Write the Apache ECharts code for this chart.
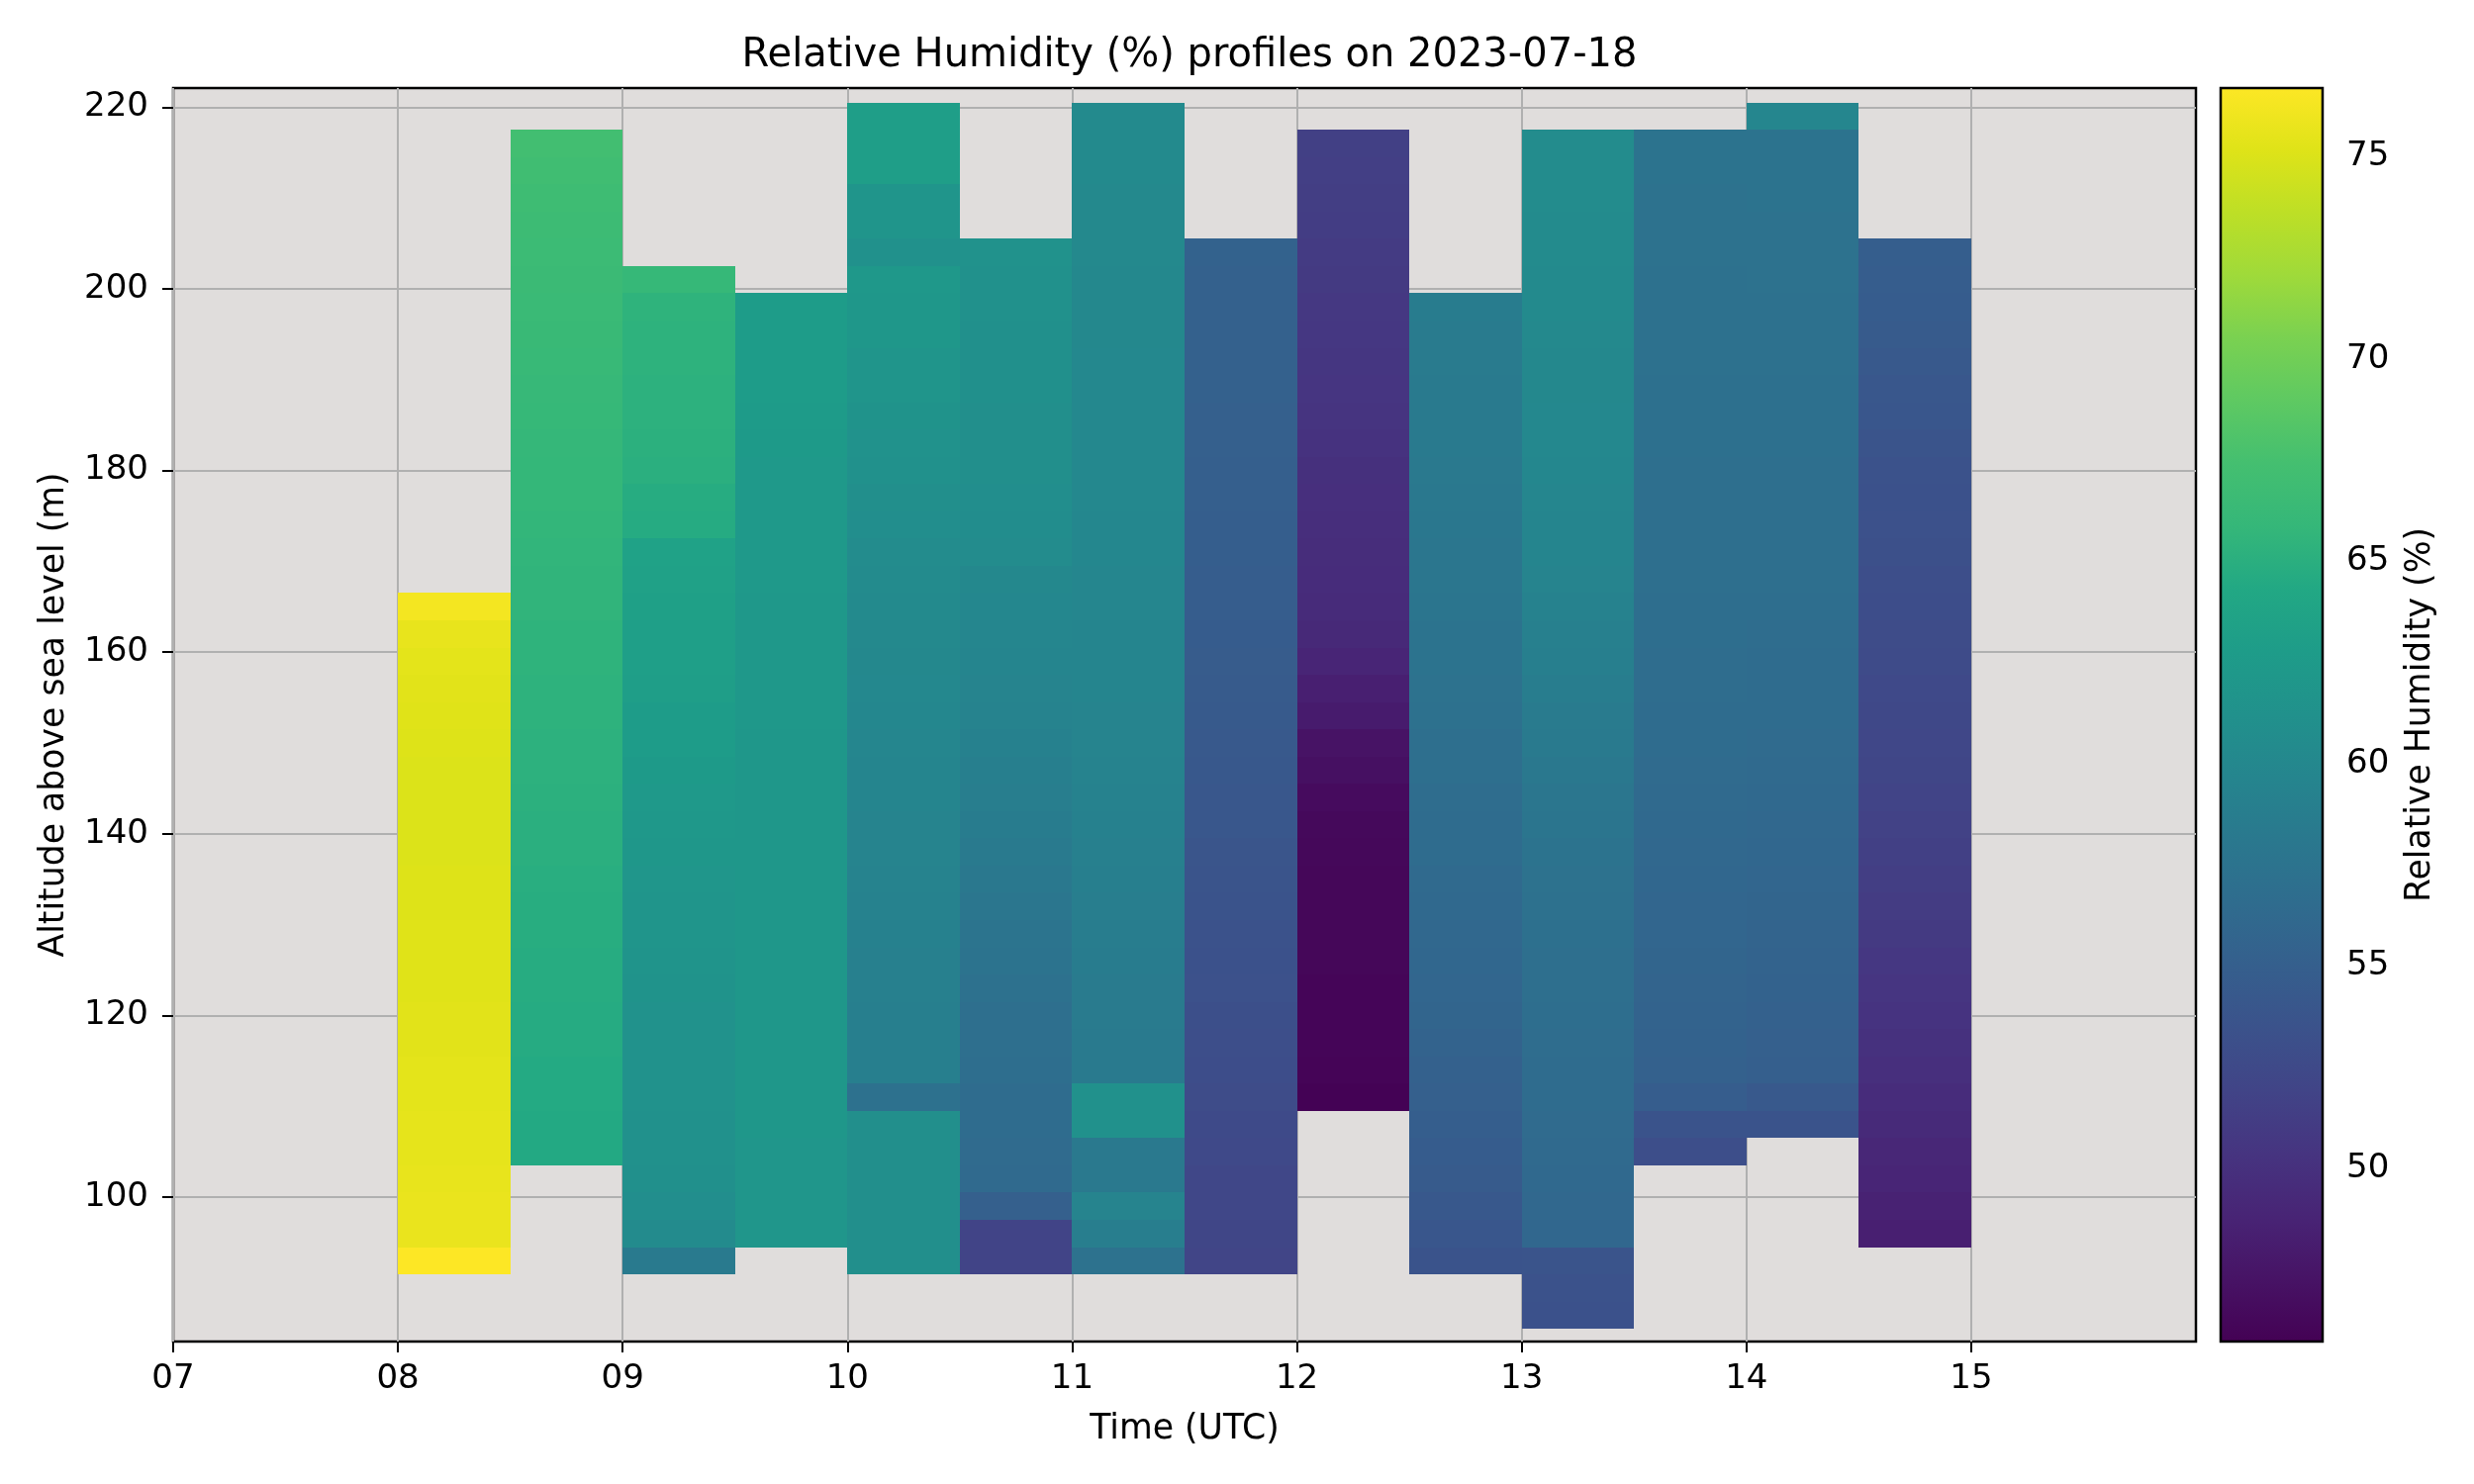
<!DOCTYPE html>
<html>
<head>
<meta charset="utf-8">
<script src="https://cdn.jsdelivr.net/npm/echarts@6/dist/echarts.min.js"></script>
<style>html,body{margin:0;padding:0;background:#fff}#chart{width:2500px;height:1500px}</style>
</head>
<body>
<div id="chart"></div>
<script>
// ---- data ----
const profileStartTimes = ['08:00','08:30','09:00','09:30','10:00','10:30','11:00','11:30','12:00','12:30','13:00','13:30','14:00','14:30'];
const profileDurationMin = 30;
const altitudeBinSize = 3;
// lower edge of the lowest altitude bin of each profile (m)
const profileBottomAlt = [91.5, 103.5, 91.5, 94.5, 91.5, 91.5, 91.5, 91.5, 109.5, 91.5, 85.5, 103.5, 106.5, 94.5];
// relative humidity (%) per 3 m bin, from the lowest bin upwards
const rh_0800 = [76.7,75.7,75.7,75.6,75.5,75.5,75.4,75.4,75.3,75.3,75.2,75.2,75.2,75.1,75.1,75.0,75.0,75.0,75.0,75.1,75.2,75.3,75.4,75.6,76.2];
const rh_0830 = [64.4,64.4,64.5,64.5,64.6,64.6,64.7,64.7,64.8,64.8,64.9,65.0,65.0,65.1,65.2,65.2,65.3,65.3,65.4,65.4,65.5,65.5,65.6,65.7,65.8,65.8,65.9,66.0,66.1,66.2,66.3,66.4,66.5,66.6,66.7,66.8,67.0,67.2];
const rh_0900 = [58.4,60.4,60.8,61.1,61.2,61.2,61.3,61.3,61.4,61.4,61.5,61.6,61.7,61.8,61.9,62.0,62.2,62.4,62.5,62.7,62.8,63.0,63.1,63.2,63.3,63.4,63.5,64.6,64.7,65.0,65.1,65.2,65.2,65.3,65.3,65.4,66.0];
const rh_0930 = [61.9,61.9,61.9,61.9,62.0,62.0,62.0,62.0,62.0,62.0,62.0,62.0,62.0,62.0,62.1,62.1,62.1,62.1,62.1,62.2,62.2,62.2,62.2,62.2,62.3,62.3,62.3,62.4,62.4,62.5,62.6,62.7,62.7,62.8,62.8];
const rh_1000 = [61.0,61.0,61.0,61.0,61.0,61.0,57.2,58.9,59.0,59.0,59.1,59.1,59.2,59.3,59.4,59.5,59.5,59.6,59.7,59.8,59.9,60.0,60.1,60.2,60.3,60.4,60.6,60.8,61.0,61.2,61.4,61.5,61.7,61.8,62.0,62.1,62.2,61.2,61.7,61.7,63.0,63.0,63.0];
const rh_1030 = [51.9,51.9,55.1,56.3,56.4,56.5,56.6,56.8,56.9,57.0,57.2,57.5,57.6,57.8,58.1,58.4,58.6,58.8,59.0,59.2,59.4,59.5,59.6,59.8,59.9,60.1,60.5,60.7,60.8,60.9,61.0,61.0,61.1,61.1,61.1,61.2,61.2,61.3];
const rh_1100 = [57.3,58.8,59.5,58.2,58.2,61.2,61.2,58.3,58.4,58.5,58.5,58.6,58.7,58.8,58.9,59.1,59.2,59.3,59.4,59.5,59.5,59.6,59.7,59.7,59.8,59.8,59.9,59.9,60.0,60.0,60.0,60.0,60.0,60.0,60.1,60.1,60.1,60.2,60.2,60.2,60.3,60.3,60.3];
const rh_1130 = [52.0,52.1,52.2,52.3,52.5,52.6,52.8,52.9,53.0,53.1,53.3,53.4,53.5,53.6,53.7,53.8,54.0,54.1,54.2,54.3,54.4,54.5,54.6,54.7,54.8,54.8,54.9,54.9,55.0,55.0,55.1,55.1,55.2,55.2,55.3,55.3,55.3,55.4];
const rh_1200 = [45.8,46.0,46.1,46.1,46.1,46.2,46.2,46.2,46.2,46.3,46.4,46.6,47.0,47.3,48.0,48.4,48.9,49.3,49.5,49.6,49.7,49.8,49.9,50.0,50.2,50.4,50.5,50.6,50.7,50.8,50.9,51.0,51.2,51.3,51.4,51.5];
const rh_1230 = [53.6,53.9,54.2,54.5,54.7,54.9,55.1,55.3,55.5,55.7,55.8,56.0,56.1,56.2,56.3,56.5,56.6,56.7,56.9,57.0,57.2,57.3,57.4,57.5,57.7,57.8,57.9,58.0,58.1,58.2,58.3,58.4,58.4,58.5,58.5,58.6];
const rh_1300 = [53.4,53.5,53.7,56.0,56.1,56.2,56.3,56.4,56.5,56.6,56.7,56.8,56.9,57.0,57.1,57.2,57.3,57.5,57.7,57.9,58.1,58.3,58.5,58.7,58.9,59.1,59.3,59.5,59.6,59.7,59.8,59.9,60.0,60.0,60.1,60.1,60.2,60.3,60.3,60.4,60.4,60.5,60.5,60.6];
const rh_1330 = [53.0,53.6,54.8,55.3,55.4,55.5,55.6,55.7,55.8,55.9,56.0,56.1,56.2,56.3,56.4,56.5,56.6,56.7,56.7,56.8,56.8,56.9,56.9,57.0,57.0,57.0,57.1,57.1,57.1,57.2,57.2,57.2,57.2,57.3,57.3,57.3,57.4,57.4];
const rh_1400 = [53.6,54.3,55.0,55.1,55.2,55.4,55.5,55.6,55.7,55.8,56.0,56.1,56.2,56.3,56.4,56.5,56.6,56.6,56.7,56.8,56.9,56.9,57.0,57.0,57.0,57.1,57.1,57.1,57.2,57.2,57.2,57.3,57.3,57.3,57.4,57.4,57.4,59.8];
const rh_1430 = [48.4,48.6,48.9,49.1,49.4,49.6,49.9,50.1,50.3,50.5,50.7,50.9,51.1,51.3,51.5,51.7,51.9,52.1,52.3,52.4,52.5,52.7,52.8,52.9,53.0,53.2,53.3,53.4,53.5,53.7,53.9,54.1,54.3,54.5,54.7,54.8,54.9];
const profiles = [rh_0800, rh_0830, rh_0900, rh_0930, rh_1000, rh_1030, rh_1100, rh_1130, rh_1200, rh_1230, rh_1300, rh_1330, rh_1400, rh_1430];

const xTickHours = [7, 8, 9, 10, 11, 12, 13, 14, 15];
const yTickAlts = [100, 120, 140, 160, 180, 200, 220];
const colorbarTicks = [50, 55, 60, 65, 70, 75];
const timeRange = [7, 16];
const altRange = [84.1, 222.1];
const rhRange = [45.72, 76.69];

const viridis = ['#440154','#471365','#482475','#463480','#414487','#3b528b','#355f8d','#2f6c8e','#2a788e','#25858e','#21918c','#1e9c89','#22a884','#35b779','#44bf70','#5ec962','#7ad151','#9fda3a','#bddf26','#dfe318','#fde725'];

// ---- build cells ----
const cells = [];
profiles.forEach((vals, i) => {
  const [h, m] = profileStartTimes[i].split(':').map(Number);
  const t0 = h + m / 60;
  const t1 = t0 + profileDurationMin / 60;
  vals.forEach((v, k) => {
    const a0 = profileBottomAlt[i] + k * altitudeBinSize;
    cells.push([t0, t1, a0, a0 + altitudeBinSize, v]);
  });
});

const FONT = 'DejaVu Sans';
const chart = echarts.init(document.getElementById('chart'), null, {renderer: 'canvas'});

function rectItem(api, fill, stroke) {
  const tl = api.coord([api.value(0), api.value(3)]);
  const br = api.coord([api.value(1), api.value(2)]);
  const x0 = Math.round(tl[0]), y0 = Math.round(tl[1]);
  const x1 = Math.round(br[0]), y1 = Math.round(br[1]);
  const style = {fill: fill};
  if (stroke) { style.stroke = stroke; style.lineWidth = 2.5; }
  return {type: 'rect', shape: {x: x0, y: y0, width: x1 - x0, height: y1 - y0}, style: style};
}

const option = {
  animation: false,
  backgroundColor: '#ffffff',
  textStyle: {fontFamily: FONT, color: '#000'},
  title: {
    text: 'Relative Humidity (%) profiles on 2023-07-18',
    left: 1197, top: 32, textAlign: 'center',
    textStyle: {fontFamily: FONT, fontSize: 40, fontWeight: 'normal', color: '#000'}
  },
  grid: [
    {left: 175, top: 89, width: 2044, height: 1267, show: true, backgroundColor: '#e0dddc', borderColor: '#000', borderWidth: 2.5},
    {left: 2244, top: 89, width: 103, height: 1267, show: false}
  ],
  xAxis: [
    {
      type: 'value', gridIndex: 0, min: timeRange[0], max: timeRange[1],
      name: 'Time (UTC)', nameLocation: 'middle', nameGap: 71,
      nameTextStyle: {fontFamily: FONT, fontSize: 34.7, color: '#000'},
      axisLine: {show: false},
      axisTick: {show: true, length: 11, lineStyle: {color: '#000', width: 2}, customValues: xTickHours},
      axisLabel: {fontFamily: FONT, fontSize: 34, color: '#000', margin: 21, customValues: xTickHours,
                  formatter: v => String(v).padStart(2, '0')},
      splitLine: {show: true, lineStyle: {color: '#b0b0b0', width: 2}}
    },
    {type: 'value', gridIndex: 1, min: 0, max: 1, show: false}
  ],
  yAxis: [
    {
      type: 'value', gridIndex: 0, min: altRange[0], max: altRange[1],
      name: 'Altitude above sea level (m)', nameLocation: 'middle', nameGap: 103,
      nameTextStyle: {fontFamily: FONT, fontSize: 34.7, color: '#000'},
      axisLine: {show: false},
      axisTick: {show: true, length: 11, lineStyle: {color: '#000', width: 2}, customValues: yTickAlts},
      axisLabel: {fontFamily: FONT, fontSize: 34, color: '#000', margin: 25, customValues: yTickAlts},
      splitLine: {show: true, lineStyle: {color: '#b0b0b0', width: 2}}
    },
    {
      type: 'value', gridIndex: 1, min: rhRange[0], max: rhRange[1], position: 'right',
      name: 'Relative Humidity (%)', nameLocation: 'middle', nameGap: 81,
      nameTextStyle: {fontFamily: FONT, fontSize: 34.7, color: '#000'},
      axisLine: {show: false},
      axisTick: {show: true, length: 11, lineStyle: {color: '#000', width: 2}, customValues: colorbarTicks},
      axisLabel: {fontFamily: FONT, fontSize: 34, color: '#000', margin: 24, customValues: colorbarTicks},
      splitLine: {show: false}
    }
  ],
  visualMap: {
    type: 'continuous', show: false, dimension: 4, seriesIndex: 0,
    min: rhRange[0], max: rhRange[1], inRange: {color: viridis}
  },
  series: [
    {
      type: 'custom', xAxisIndex: 0, yAxisIndex: 0,
      encode: {x: [0, 1], y: [2, 3]},
      data: cells,
      renderItem: (params, api) => rectItem(api, api.visual('color'))
    },
    {
      type: 'custom', xAxisIndex: 1, yAxisIndex: 1,
      encode: {x: [0, 1], y: [2, 3]},
      data: [[0, 1, rhRange[0], rhRange[1]]],
      renderItem: (params, api) => rectItem(api, {
        type: 'linear', x: 0, y: 1, x2: 0, y2: 0,
        colorStops: viridis.map((c, i) => ({offset: i / (viridis.length - 1), color: c}))
      }, '#000')
    }
  ]
};
chart.setOption(option);
</script>
</body>
</html>
